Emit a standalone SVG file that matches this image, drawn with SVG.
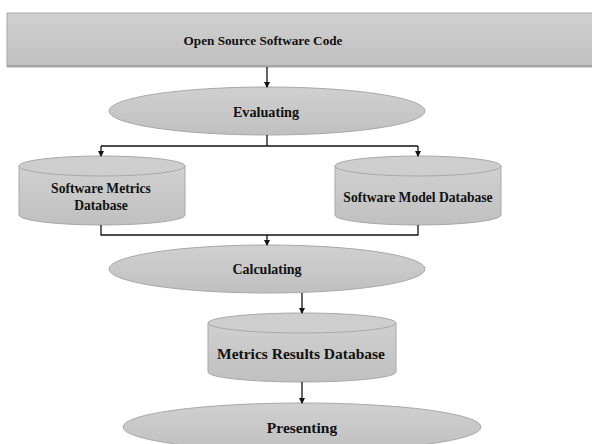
<svg xmlns="http://www.w3.org/2000/svg" width="592" height="444" viewBox="0 0 592 444">
<defs>
<linearGradient id="g" x1="0" y1="0" x2="0" y2="1">
<stop offset="0" stop-color="#d0d0d0"/>
<stop offset="1" stop-color="#c0c0c0"/>
</linearGradient>
<marker id="ah" markerWidth="6" markerHeight="6" refX="5" refY="3" orient="auto" markerUnits="userSpaceOnUse">
<path d="M0,0 L6,3 L0,6 z" fill="#111"/>
</marker>
<style>
.sh{fill:url(#g);stroke:#a8a8a8;stroke-width:1}
.top{fill:#cecece;stroke:#a8a8a8;stroke-width:1}
.t{font-family:"Liberation Serif",serif;font-weight:bold;font-size:13.6px;fill:#111;text-anchor:middle}
.c{fill:none;stroke:#111;stroke-width:1.3}
</style>
</defs>
<rect width="592" height="444" fill="#fff"/>
<g id="code">
<rect class="sh" x="7" y="13" width="590" height="54"/>
<line x1="7" y1="66" x2="592" y2="66" stroke="#a0a0a0" stroke-width="1.5"/>
<text class="t" x="263" y="45" style="font-size:13.2px">Open Source Software Code</text>
</g>
<g id="evaluating">
<ellipse class="sh" cx="267" cy="111" rx="158" ry="24"/>
<text class="t" x="266" y="117" style="font-size:14.2px">Evaluating</text>
</g>
<g id="metricsdb">
<path class="sh" d="M19,166 L19,215 A83,10 0 0 0 185,215 L185,166"/>
<ellipse class="top" cx="102" cy="166" rx="83" ry="10"/>
<text class="t" x="101" y="193">Software Metrics</text>
<text class="t" x="101" y="210">Database</text>
</g>
<g id="modeldb">
<path class="sh" d="M335,166 L335,215 A83,10 0 0 0 501,215 L501,166"/>
<ellipse class="top" cx="418" cy="166" rx="83" ry="10"/>
<text class="t" x="418" y="202">Software Model Database</text>
</g>
<g id="calculating">
<ellipse class="sh" cx="267" cy="269" rx="158" ry="24"/>
<text class="t" x="267" y="274" style="font-size:14px">Calculating</text>
</g>
<g id="resultsdb">
<path class="sh" d="M208,323 L208,372 A94,10 0 0 0 396,372 L396,323"/>
<ellipse class="top" cx="302" cy="323" rx="94" ry="10"/>
<text class="t" x="301" y="359" style="font-size:15.5px">Metrics Results Database</text>
</g>
<g id="presenting">
<ellipse class="sh" cx="302" cy="427" rx="179" ry="24"/>
<text class="t" x="302" y="433" style="font-size:15.5px">Presenting</text>
</g>
<g id="connectors">
<line class="c" x1="267" y1="67" x2="267" y2="87" marker-end="url(#ah)"/>
<polyline class="c" points="267,135 267,146"/>
<polyline class="c" points="101,146 418,146"/>
<line class="c" x1="101" y1="146" x2="101" y2="156" marker-end="url(#ah)"/>
<line class="c" x1="418" y1="146" x2="418" y2="156" marker-end="url(#ah)"/>
<polyline class="c" points="101,225 101,235 418,235 418,225"/>
<line class="c" x1="267" y1="235" x2="267" y2="245" marker-end="url(#ah)"/>
<line class="c" x1="302" y1="293" x2="302" y2="313" marker-end="url(#ah)"/>
<line class="c" x1="302" y1="382" x2="302" y2="403" marker-end="url(#ah)"/>
</g>
</svg>
